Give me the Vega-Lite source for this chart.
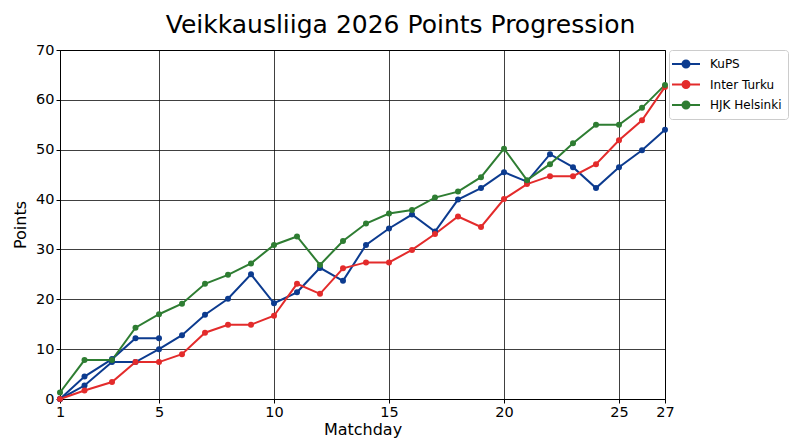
{
  "$schema": "https://vega.github.io/schema/vega-lite/v6.json",
  "width": 605,
  "height": 349,
  "autosize": "none",
  "padding": {"left": 60, "top": 50, "right": 135, "bottom": 48},
  "background": "white",
  "title": {
    "text": "Veikkausliiga 2026 Points Progression",
    "fontSize": 25,
    "fontWeight": "normal",
    "font": "DejaVu Sans",
    "color": "black",
    "anchor": "middle",
    "dx": 38,
    "offset": 4
  },
  "data": {
    "values": [
      {"matchday": 1, "team": "KuPS", "seg": "a", "points": 0},
      {"matchday": 2, "team": "KuPS", "seg": "a", "points": 2.7},
      {"matchday": 3, "team": "KuPS", "seg": "a", "points": 7.4},
      {"matchday": 4, "team": "KuPS", "seg": "a", "points": 7.4},
      {"matchday": 5, "team": "KuPS", "seg": "a", "points": 10},
      {"matchday": 6, "team": "KuPS", "seg": "a", "points": 12.8},
      {"matchday": 7, "team": "KuPS", "seg": "a", "points": 16.9},
      {"matchday": 8, "team": "KuPS", "seg": "a", "points": 20.1},
      {"matchday": 9, "team": "KuPS", "seg": "a", "points": 25},
      {"matchday": 10, "team": "KuPS", "seg": "a", "points": 19.2},
      {"matchday": 11, "team": "KuPS", "seg": "a", "points": 21.4},
      {"matchday": 12, "team": "KuPS", "seg": "a", "points": 26.3},
      {"matchday": 13, "team": "KuPS", "seg": "a", "points": 23.7},
      {"matchday": 14, "team": "KuPS", "seg": "a", "points": 30.9},
      {"matchday": 15, "team": "KuPS", "seg": "a", "points": 34.2},
      {"matchday": 16, "team": "KuPS", "seg": "a", "points": 37},
      {"matchday": 17, "team": "KuPS", "seg": "a", "points": 33.6},
      {"matchday": 18, "team": "KuPS", "seg": "a", "points": 40},
      {"matchday": 19, "team": "KuPS", "seg": "a", "points": 42.3},
      {"matchday": 20, "team": "KuPS", "seg": "a", "points": 45.5},
      {"matchday": 21, "team": "KuPS", "seg": "a", "points": 43.6},
      {"matchday": 22, "team": "KuPS", "seg": "a", "points": 49.1},
      {"matchday": 23, "team": "KuPS", "seg": "a", "points": 46.5},
      {"matchday": 24, "team": "KuPS", "seg": "a", "points": 42.3},
      {"matchday": 25, "team": "KuPS", "seg": "a", "points": 46.5},
      {"matchday": 26, "team": "KuPS", "seg": "a", "points": 49.9},
      {"matchday": 27, "team": "KuPS", "seg": "a", "points": 54},
      {"matchday": 1, "team": "KuPS", "seg": "b", "points": 0},
      {"matchday": 2, "team": "KuPS", "seg": "b", "points": 4.5},
      {"matchday": 3, "team": "KuPS", "seg": "b", "points": 8},
      {"matchday": 4, "team": "KuPS", "seg": "b", "points": 12.2},
      {"matchday": 5, "team": "KuPS", "seg": "b", "points": 12.2},
      {"matchday": 1, "team": "Inter Turku", "seg": "a", "points": 0},
      {"matchday": 2, "team": "Inter Turku", "seg": "a", "points": 1.7},
      {"matchday": 3, "team": "Inter Turku", "seg": "a", "points": 3.4},
      {"matchday": 4, "team": "Inter Turku", "seg": "a", "points": 7.4},
      {"matchday": 5, "team": "Inter Turku", "seg": "a", "points": 7.4},
      {"matchday": 6, "team": "Inter Turku", "seg": "a", "points": 9},
      {"matchday": 7, "team": "Inter Turku", "seg": "a", "points": 13.3},
      {"matchday": 8, "team": "Inter Turku", "seg": "a", "points": 14.9},
      {"matchday": 9, "team": "Inter Turku", "seg": "a", "points": 14.9},
      {"matchday": 10, "team": "Inter Turku", "seg": "a", "points": 16.7},
      {"matchday": 11, "team": "Inter Turku", "seg": "a", "points": 23.1},
      {"matchday": 12, "team": "Inter Turku", "seg": "a", "points": 21.1},
      {"matchday": 13, "team": "Inter Turku", "seg": "a", "points": 26.2},
      {"matchday": 14, "team": "Inter Turku", "seg": "a", "points": 27.4},
      {"matchday": 15, "team": "Inter Turku", "seg": "a", "points": 27.4},
      {"matchday": 16, "team": "Inter Turku", "seg": "a", "points": 29.9},
      {"matchday": 17, "team": "Inter Turku", "seg": "a", "points": 33.1},
      {"matchday": 18, "team": "Inter Turku", "seg": "a", "points": 36.6},
      {"matchday": 19, "team": "Inter Turku", "seg": "a", "points": 34.5},
      {"matchday": 20, "team": "Inter Turku", "seg": "a", "points": 40.1},
      {"matchday": 21, "team": "Inter Turku", "seg": "a", "points": 43.1},
      {"matchday": 22, "team": "Inter Turku", "seg": "a", "points": 44.7},
      {"matchday": 23, "team": "Inter Turku", "seg": "a", "points": 44.7},
      {"matchday": 24, "team": "Inter Turku", "seg": "a", "points": 47.1},
      {"matchday": 25, "team": "Inter Turku", "seg": "a", "points": 51.9},
      {"matchday": 26, "team": "Inter Turku", "seg": "a", "points": 55.9},
      {"matchday": 27, "team": "Inter Turku", "seg": "a", "points": 62.6},
      {"matchday": 1, "team": "HJK Helsinki", "seg": "a", "points": 1.3},
      {"matchday": 2, "team": "HJK Helsinki", "seg": "a", "points": 7.8},
      {"matchday": 3, "team": "HJK Helsinki", "seg": "a", "points": 7.8},
      {"matchday": 4, "team": "HJK Helsinki", "seg": "a", "points": 14.3},
      {"matchday": 5, "team": "HJK Helsinki", "seg": "a", "points": 17},
      {"matchday": 6, "team": "HJK Helsinki", "seg": "a", "points": 19.1},
      {"matchday": 7, "team": "HJK Helsinki", "seg": "a", "points": 23.1},
      {"matchday": 8, "team": "HJK Helsinki", "seg": "a", "points": 24.9},
      {"matchday": 9, "team": "HJK Helsinki", "seg": "a", "points": 27.2},
      {"matchday": 10, "team": "HJK Helsinki", "seg": "a", "points": 30.9},
      {"matchday": 11, "team": "HJK Helsinki", "seg": "a", "points": 32.6},
      {"matchday": 12, "team": "HJK Helsinki", "seg": "a", "points": 26.9},
      {"matchday": 13, "team": "HJK Helsinki", "seg": "a", "points": 31.7},
      {"matchday": 14, "team": "HJK Helsinki", "seg": "a", "points": 35.2},
      {"matchday": 15, "team": "HJK Helsinki", "seg": "a", "points": 37.2},
      {"matchday": 16, "team": "HJK Helsinki", "seg": "a", "points": 37.9},
      {"matchday": 17, "team": "HJK Helsinki", "seg": "a", "points": 40.4},
      {"matchday": 18, "team": "HJK Helsinki", "seg": "a", "points": 41.6},
      {"matchday": 19, "team": "HJK Helsinki", "seg": "a", "points": 44.5},
      {"matchday": 20, "team": "HJK Helsinki", "seg": "a", "points": 50.2},
      {"matchday": 21, "team": "HJK Helsinki", "seg": "a", "points": 43.9},
      {"matchday": 22, "team": "HJK Helsinki", "seg": "a", "points": 47.1},
      {"matchday": 23, "team": "HJK Helsinki", "seg": "a", "points": 51.3},
      {"matchday": 24, "team": "HJK Helsinki", "seg": "a", "points": 55},
      {"matchday": 25, "team": "HJK Helsinki", "seg": "a", "points": 55},
      {"matchday": 26, "team": "HJK Helsinki", "seg": "a", "points": 58.4},
      {"matchday": 27, "team": "HJK Helsinki", "seg": "a", "points": 63}
    ]
  },
  "mark": {
    "type": "line",
    "strokeWidth": 2,
    "point": {"filled": true, "size": 36}
  },
  "encoding": {
    "x": {
      "field": "matchday",
      "type": "quantitative",
      "title": "Matchday",
      "scale": {
        "domain": [1, 2, 3, 5, 27],
        "range": [0, 24.5, 52, 99, 605],
        "zero": false,
        "nice": false
      },
      "axis": {"values": [1, 5, 10, 15, 20, 25, 27], "labelFlush": false, "titlePadding": 3}
    },
    "y": {
      "field": "points",
      "type": "quantitative",
      "title": "Points",
      "scale": {"domain": [0, 70], "nice": false},
      "axis": {"values": [0, 10, 20, 30, 40, 50, 60, 70], "labelFlush": false, "titlePadding": 7}
    },
    "color": {
      "field": "team",
      "type": "nominal",
      "sort": ["KuPS", "Inter Turku", "HJK Helsinki"],
      "scale": {
        "domain": ["KuPS", "Inter Turku", "HJK Helsinki"],
        "range": ["#0c3b8f", "#e32b2b", "#2e7d32"]
      },
      "legend": {
        "title": null,
        "orient": "none",
        "legendX": 609,
        "legendY": 0,
        "padding": 6,
        "symbolOffset": 3,
        "fillColor": "white",
        "strokeColor": "#cccccc",
        "cornerRadius": 3,
        "symbolType": "M-2,0H2M-0.5,0a0.5,0.5 0 1,0 1,0a0.5,0.5 0 1,0 -1,0",
        "symbolSize": 196,
        "symbolStrokeWidth": 2,
        "labelOffset": 16,
        "labelFontSize": 12,
        "labelFont": "DejaVu Sans",
        "labelColor": "black",
        "rowPadding": 4.5,
        "encode": {
          "symbols": {
            "update": {"fill": {"scale": "color", "field": "value"}}
          }
        }
      }
    },
    "detail": {"field": "seg", "type": "nominal"}
  },
  "config": {
    "view": {"stroke": "black", "strokeWidth": 1},
    "axis": {
      "labelFont": "DejaVu Sans",
      "titleFont": "DejaVu Sans",
      "labelFontSize": 14.5,
      "titleFontSize": 16,
      "titleFontWeight": "normal",
      "labelColor": "black",
      "titleColor": "black",
      "domainColor": "black",
      "tickColor": "black",
      "tickSize": 4,
      "labelPadding": 2,
      "gridColor": "#000000",
      "gridOpacity": 0.75,
      "gridWidth": 1
    }
  }
}
